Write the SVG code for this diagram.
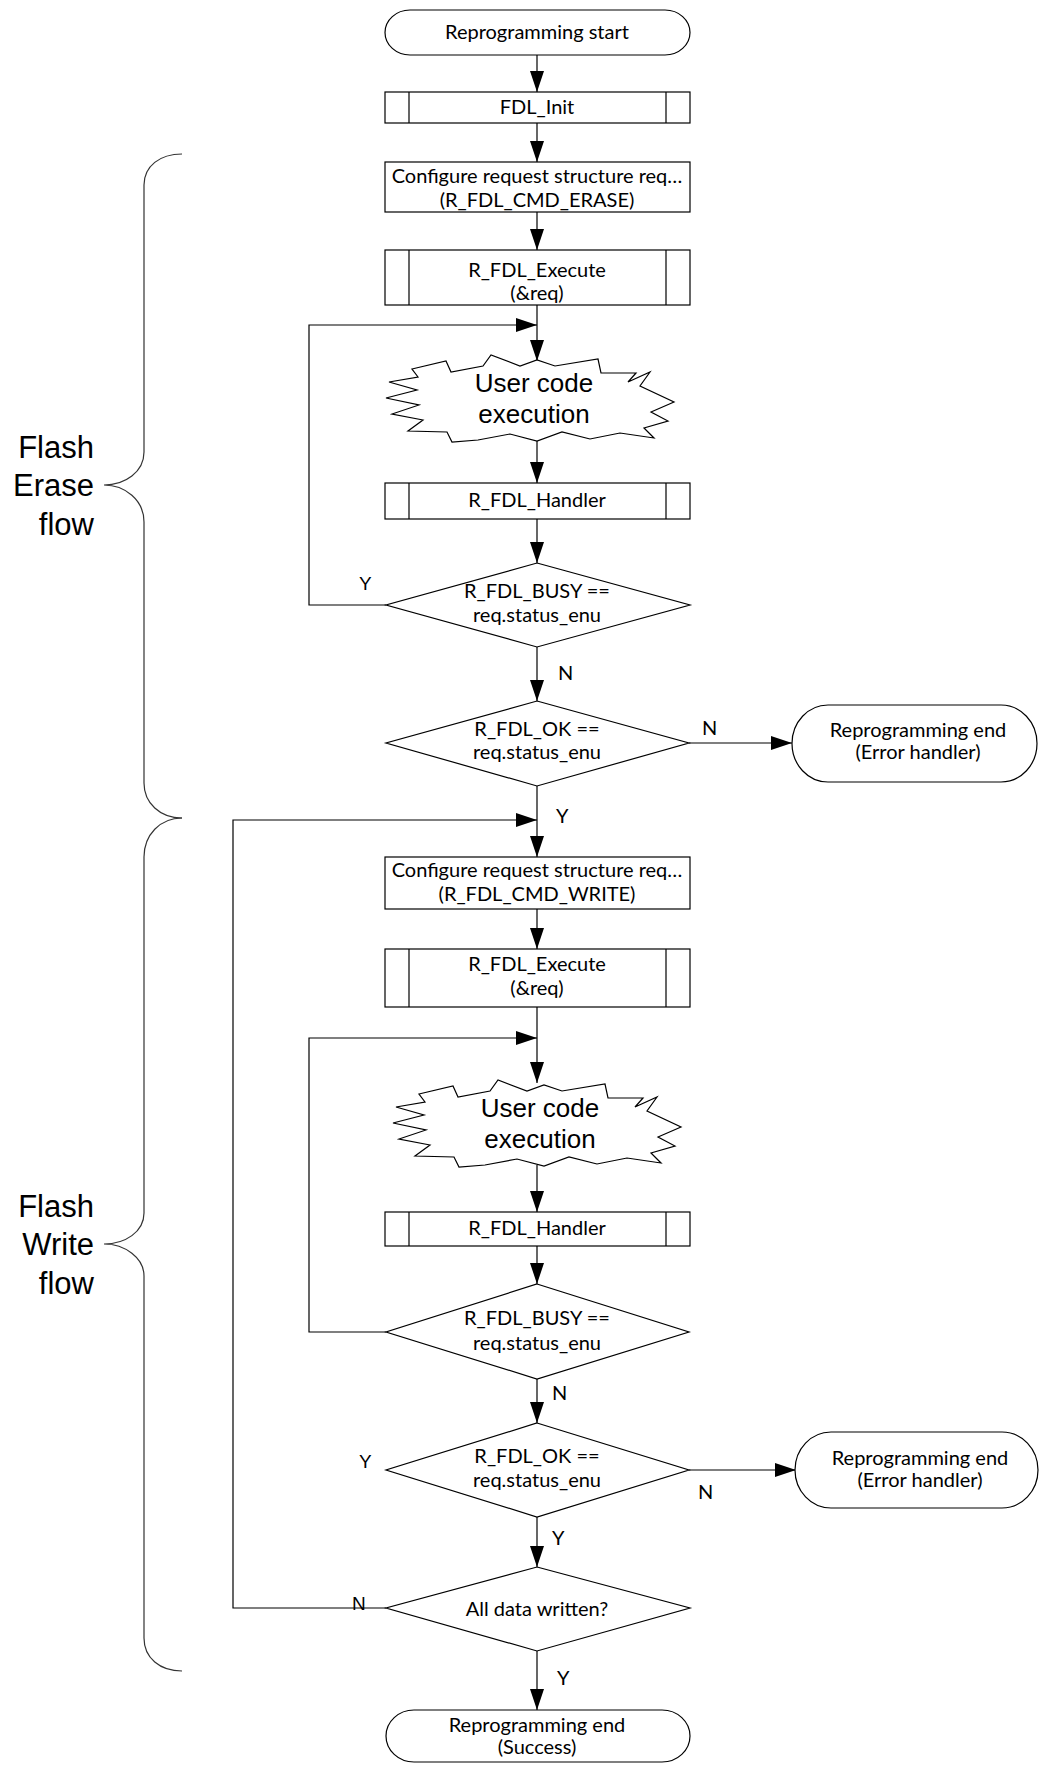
<svg xmlns="http://www.w3.org/2000/svg" width="1039" height="1765" viewBox="0 0 1039 1765">
<style>
.s{fill:#fff;stroke:#000;stroke-width:1.2}
.c{fill:none;stroke:#000;stroke-width:1.2}
.b{fill:none;stroke:#333;stroke-width:1.2}
.t{font-family:Lato,"Open Sans","Liberation Sans",sans-serif;font-size:20px;fill:#000;text-anchor:middle}
.a{font-family:"Liberation Sans",Arial,sans-serif;fill:#000}
.big{font-size:26px;text-anchor:middle}
.side{font-size:31px;text-anchor:end}
.lbl{font-family:Lato,"Open Sans","Liberation Sans",sans-serif;font-size:20px;fill:#000}
.lbla{font-family:"Liberation Sans",Arial,sans-serif;font-size:19px;fill:#000}
</style>
<defs>
<marker id="ah" markerUnits="userSpaceOnUse" markerWidth="22" markerHeight="14" refX="21" refY="7" orient="auto">
<path d="M0,0 L21,7 L0,14 Z" fill="#000"/>
</marker>
<polygon id="cloud" points="412,369 446,361 451,372 483,366 491,355 520,366 537,360 555,366 598,359 601,373 636,373 628,382 650,372 640,386 674,402 651,412 668,421 644,428 654,438 620,433 590,439 562,432 537,441 510,434 478,440 452,442 447,432 408,431 423,420 392,414 419,405 386,398 417,390 389,382 418,377"/>
</defs>

<g id="braces">
<path class="b" d="M182,154 C160,154 144,166 144,185 L144,452 C144,472 125,485 104,485 C125,485 144,500 144,522 L144,783 C144,803 160,818 182,818"/>
<path class="b" d="M182,818 C160,818 144,835 144,857 L144,1213 C144,1232 125,1244 104,1244 C125,1244 144,1258 144,1276 L144,1638 C144,1658 160,1671 182,1671"/>
<text class="a side" x="94" y="458">Flash</text>
<text class="a side" x="94" y="496">Erase</text>
<text class="a side" x="94" y="535">flow</text>
<text class="a side" x="94" y="1217">Flash</text>
<text class="a side" x="94" y="1255">Write</text>
<text class="a side" x="94" y="1294">flow</text>
</g>

<g id="connectors">
<path class="c" d="M537,55 V92" marker-end="url(#ah)"/>
<path class="c" d="M537,123 V162" marker-end="url(#ah)"/>
<path class="c" d="M537,212 V250" marker-end="url(#ah)"/>
<path class="c" d="M537,305 V361" marker-end="url(#ah)"/>
<path class="c" d="M386,605 H309 V325 H537" marker-end="url(#ah)"/>
<path class="c" d="M537,440 V483" marker-end="url(#ah)"/>
<path class="c" d="M537,519 V563" marker-end="url(#ah)"/>
<path class="c" d="M537,647 V701" marker-end="url(#ah)"/>
<path class="c" d="M689,743 H792" marker-end="url(#ah)"/>
<path class="c" d="M537,786 V857" marker-end="url(#ah)"/>
<path class="c" d="M386,1608 H233 V820 H537" marker-end="url(#ah)"/>
<path class="c" d="M537,909 V949" marker-end="url(#ah)"/>
<path class="c" d="M537,1007 V1083" marker-end="url(#ah)"/>
<path class="c" d="M386,1332 H309 V1038 H537" marker-end="url(#ah)"/>
<path class="c" d="M537,1165 V1212" marker-end="url(#ah)"/>
<path class="c" d="M537,1246 V1284" marker-end="url(#ah)"/>
<path class="c" d="M537,1379 V1423" marker-end="url(#ah)"/>
<path class="c" d="M689,1470 H796" marker-end="url(#ah)"/>
<path class="c" d="M537,1517 V1567" marker-end="url(#ah)"/>
<path class="c" d="M537,1651 V1710" marker-end="url(#ah)"/>
<text class="lbla" x="359" y="590">Y</text>
<text class="lbl" x="558" y="680">N</text>
<text class="lbl" x="702" y="735">N</text>
<text class="lbl" x="556" y="823">Y</text>
<text class="lbl" x="552" y="1400">N</text>
<text class="lbla" x="359" y="1468">Y</text>
<text class="lbl" x="698" y="1499">N</text>
<text class="lbl" x="552" y="1545">Y</text>
<text class="lbl" x="557" y="1685">Y</text>
<text class="lbla" x="352" y="1610">N</text>
</g>

<g id="start">
<path class="s" d="M410,10 H665 A25,22.5 0 0 1 665,55 H410 A25,22.5 0 0 1 410,10 Z"/>
<text class="t" x="537" y="39">Reprogramming start</text>
</g>
<g id="fdl_init">
<rect class="s" x="385" y="92" width="305" height="31"/>
<path class="c" d="M409,92 V123 M666,92 V123"/>
<text class="t" x="537" y="114">FDL_Init</text>
</g>
<g id="config_erase">
<rect class="s" x="385" y="162" width="305" height="50"/>
<text class="t" x="537" y="183">Configure request structure req…</text>
<text class="t" x="537" y="207">(R_FDL_CMD_ERASE)</text>
</g>
<g id="execute_erase">
<rect class="s" x="385" y="250" width="305" height="55"/>
<path class="c" d="M409,250 V305 M666,250 V305"/>
<text class="t" x="537" y="277">R_FDL_Execute</text>
<text class="t" x="537" y="300">(&amp;req)</text>
</g>
<g id="user_code_erase">
<use href="#cloud" class="s"/>
<text class="a big" x="534" y="392">User code</text>
<text class="a big" x="534" y="423">execution</text>
</g>
<g id="handler_erase">
<rect class="s" x="385" y="483" width="305" height="36"/>
<path class="c" d="M409,483 V519 M666,483 V519"/>
<text class="t" x="537" y="507">R_FDL_Handler</text>
</g>
<g id="busy_erase">
<polygon class="s" points="537,563 690,605 537,647 386,605"/>
<text class="t" x="537" y="598">R_FDL_BUSY ==</text>
<text class="t" x="537" y="622">req.status_enu</text>
</g>
<g id="ok_erase">
<polygon class="s" points="537,701 689,743 537,786 386,743"/>
<text class="t" x="537" y="736">R_FDL_OK ==</text>
<text class="t" x="537" y="759">req.status_enu</text>
</g>
<g id="error_erase">
<path class="s" d="M828,705 H1001 A36,38.5 0 0 1 1001,782 H828 A36,38.5 0 0 1 828,705 Z"/>
<text class="t" x="918" y="737">Reprogramming end</text>
<text class="t" x="918" y="759">(Error handler)</text>
</g>
<g id="config_write">
<rect class="s" x="385" y="857" width="305" height="52"/>
<text class="t" x="537" y="877">Configure request structure req…</text>
<text class="t" x="537" y="901">(R_FDL_CMD_WRITE)</text>
</g>
<g id="execute_write">
<rect class="s" x="385" y="949" width="305" height="58"/>
<path class="c" d="M409,949 V1007 M666,949 V1007"/>
<text class="t" x="537" y="971">R_FDL_Execute</text>
<text class="t" x="537" y="995">(&amp;req)</text>
</g>
<g id="user_code_write">
<use href="#cloud" class="s" transform="translate(7,725)"/>
<text class="a big" x="540" y="1117">User code</text>
<text class="a big" x="540" y="1148">execution</text>
</g>
<g id="handler_write">
<rect class="s" x="385" y="1212" width="305" height="34"/>
<path class="c" d="M409,1212 V1246 M666,1212 V1246"/>
<text class="t" x="537" y="1235">R_FDL_Handler</text>
</g>
<g id="busy_write">
<polygon class="s" points="537,1284 689,1332 537,1379 386,1332"/>
<text class="t" x="537" y="1325">R_FDL_BUSY ==</text>
<text class="t" x="537" y="1350">req.status_enu</text>
</g>
<g id="ok_write">
<polygon class="s" points="537,1423 689,1470 537,1517 386,1470"/>
<text class="t" x="537" y="1463">R_FDL_OK ==</text>
<text class="t" x="537" y="1487">req.status_enu</text>
</g>
<g id="error_write">
<path class="s" d="M831,1432 H1002 A36,38 0 0 1 1002,1508 H831 A36,38 0 0 1 831,1432 Z"/>
<text class="t" x="920" y="1465">Reprogramming end</text>
<text class="t" x="920" y="1487">(Error handler)</text>
</g>
<g id="all_data">
<polygon class="s" points="537,1567 690,1608 537,1651 386,1608"/>
<text class="t" x="537" y="1616">All data written?</text>
</g>
<g id="success">
<path class="s" d="M414,1710 H662 A28,26 0 0 1 662,1762 H414 A28,26 0 0 1 414,1710 Z"/>
<text class="t" x="537" y="1732">Reprogramming end</text>
<text class="t" x="537" y="1754">(Success)</text>
</g>
</svg>
